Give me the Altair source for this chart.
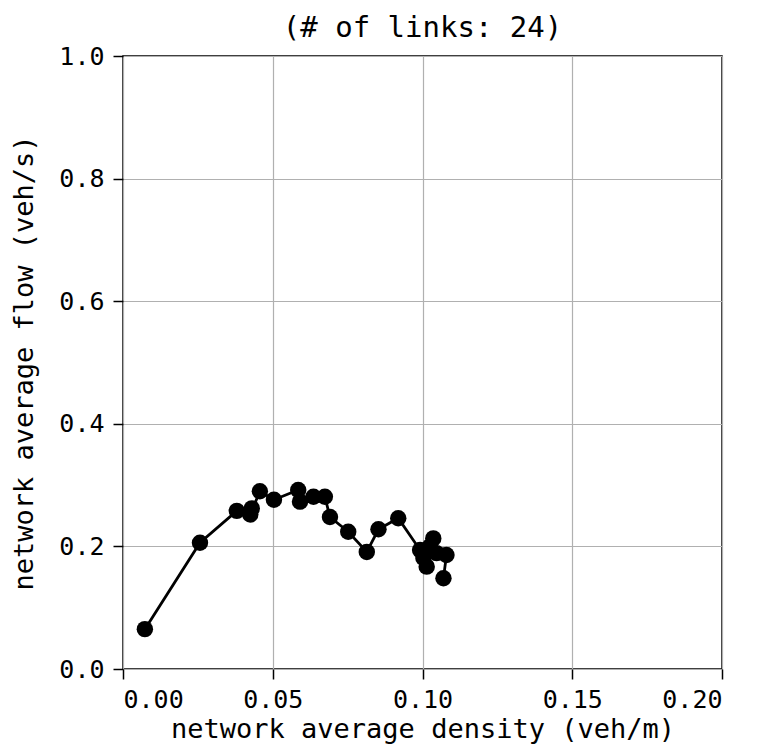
import altair as alt
import pandas as pd

density = [0.0073, 0.0257, 0.038, 0.043, 0.0425, 0.0457, 0.0504, 0.0585, 0.0591, 0.0636,
           0.0674, 0.0691, 0.0752, 0.0814, 0.0853, 0.0919, 0.0992, 0.1003, 0.1014, 0.1025,
           0.1036, 0.1047, 0.108, 0.107]
flow = [0.065, 0.206, 0.258, 0.262, 0.252, 0.290, 0.276, 0.292, 0.273, 0.281,
        0.281, 0.248, 0.224, 0.191, 0.228, 0.246, 0.194, 0.181, 0.167, 0.200,
        0.213, 0.189, 0.186, 0.148]
order = list(range(len(density)))

df = pd.DataFrame({"density": density, "flow": flow, "order": order})

font = "DejaVu Sans Mono"
x = alt.X("density:Q", scale=alt.Scale(domain=[0, 0.2], nice=False),
          axis=alt.Axis(values=[0, 0.05, 0.1, 0.15, 0.2], format=".2f",
                        title="network average density (veh/m)", titleFontSize=27))
y = alt.Y("flow:Q", scale=alt.Scale(domain=[0, 1.0], nice=False),
          axis=alt.Axis(values=[0, 0.2, 0.4, 0.6, 0.8, 1.0], format=".1f",
                        title="network average flow (veh/s)", titleFontSize=27))

base = alt.Chart(df).encode(x=x, y=y, order="order:Q")
line = base.mark_line(color="black", strokeWidth=2.8)
pts = base.mark_circle(color="black", opacity=1, size=270)

chart = (line + pts).properties(
    width=599, height=613,
    title=alt.TitleParams("(# of links: 24)", font=font, fontSize=29, fontWeight="normal",
                          color="black", offset=1),
    autosize=alt.AutoSizeParams(type="none"),
    padding={"left": 115, "top": 48, "right": 27, "bottom": 79},
).configure_view(stroke="black", strokeWidth=1.5).configure_axis(
    labelFont=font, labelFontSize=25, labelColor="black",
    titleFont=font, titleFontWeight="normal", titleColor="black",
    grid=True, gridColor="#b0b0b0", gridWidth=1.2,
    domain=False, tickColor="black", tickSize=10, tickWidth=1.5,
).configure_axisX(titlePadding=4, labelPadding=8).configure_axisY(titlePadding=20, labelPadding=9)

chart.save("out.html", embed_options={"renderer": "svg", "actions": False})
